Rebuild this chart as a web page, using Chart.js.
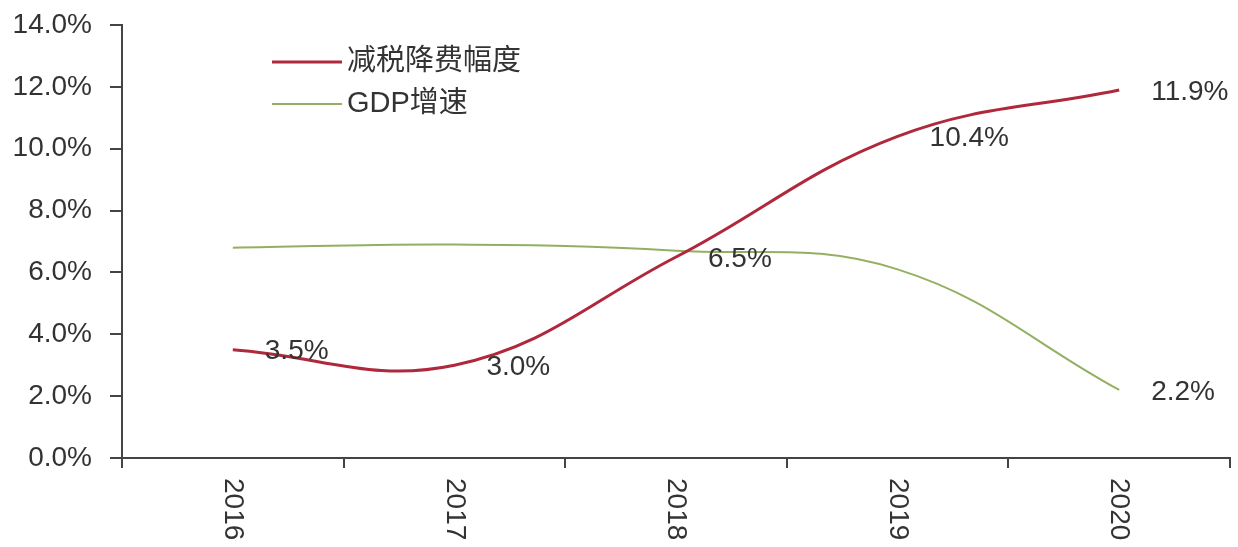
<!DOCTYPE html>
<html>
<head>
<meta charset="utf-8">
<script src="https://cdn.jsdelivr.net/npm/chart.js@4"></script>
<style>
  html, body { margin: 0; padding: 0; background: #fff; }
  #wrap { width: 1238px; height: 547px; }
</style>
</head>
<body>
<div id="wrap"><canvas id="taxgdp" width="1238" height="547"></canvas></div>
<script>
var years = ['2016', '2017', '2018', '2019', '2020'];
var taxCut = [3.5, 3.0, 6.5, 10.4, 11.9];
var gdpGrowth = [6.8, 6.9, 6.7, 6.1, 2.2];
// which points get a value label (index lists)
var taxCutLabelled = [0, 1, 2, 3, 4];
var gdpLabelled = [4];

var FONT = '"Liberation Sans", "Noto Sans CJK SC", sans-serif';
var TEXT = '#333333';

// x labels read top-to-bottom, chart.js only rotates the other way
const downLabels = {
  id: 'downLabels',
  afterDraw(chart) {
    const c = chart.ctx;
    const xs = chart.scales.x;
    c.save();
    c.font = '28px ' + FONT;
    c.fillStyle = TEXT;
    c.textAlign = 'left';
    c.textBaseline = 'middle';
    xs.ticks.forEach((t, i) => {
      const px = xs.getPixelForTick(i);
      c.save();
      c.translate(px, xs.top + 20);
      c.rotate(Math.PI / 2);
      c.fillText(years[i], 0, 0);
      c.restore();
    });
    c.restore();
  }
};

// value labels to the right of the points
const valueLabels = {
  id: 'valueLabels',
  afterDatasetsDraw(chart) {
    const c = chart.ctx;
    c.save();
    c.font = '28px ' + FONT;
    c.fillStyle = TEXT;
    c.textAlign = 'left';
    c.textBaseline = 'middle';
    [taxCutLabelled, gdpLabelled].forEach((idx, d) => {
      const meta = chart.getDatasetMeta(d);
      const vals = chart.data.datasets[d].data;
      idx.forEach(i => {
        const p = meta.data[i];
        c.fillText(vals[i].toFixed(1) + '%', p.x + 32, p.y + 2);
      });
    });
    c.restore();
  }
};

// legend sits inside the plot, top left
const innerLegend = {
  id: 'innerLegend',
  afterDraw(chart) {
    const c = chart.ctx;
    c.save();
    c.font = '29px ' + FONT;
    c.textBaseline = 'middle';
    chart.data.datasets.forEach((ds, i) => {
      const y = 62 + i * 42;
      c.strokeStyle = ds.borderColor;
      c.lineWidth = ds.borderWidth;
      c.beginPath();
      c.moveTo(272, y);
      c.lineTo(342, y);
      c.stroke();
      c.fillStyle = TEXT;
      c.fillText(ds.label, 347, y);
    });
    c.restore();
  }
};

var ctx_taxgdp = document.getElementById('taxgdp');
var taxgdp = new Chart(ctx_taxgdp, {
  type: 'line',
  data: {
    labels: years,
    datasets: [
      {
        label: '减税降费幅度',
        data: taxCut,
        borderColor: '#b0283c',
        borderWidth: 3,
        pointRadius: 0,
        tension: 0.4,
        fill: false
      },
      {
        label: 'GDP增速',
        data: gdpGrowth,
        borderColor: '#93b062',
        borderWidth: 2,
        pointRadius: 0,
        tension: 0.4,
        fill: false
      }
    ]
  },
  options: {
    responsive: false,
    animation: false,
    layout: { padding: { top: 25, right: 8, left: 0, bottom: 0 } },
    plugins: {
      legend: { display: false },
      tooltip: { enabled: false }
    },
    scales: {
      x: {
        offset: true,
        grid: {
          offset: true,
          drawOnChartArea: false,
          drawTicks: true,
          tickLength: 10,
          color: '#444',
          lineWidth: 2
        },
        border: { display: true, color: '#444', width: 2 },
        ticks: { display: false },
        afterFit(scale) { scale.height = 89; }
      },
      y: {
        min: 0,
        max: 14,
        ticks: {
          stepSize: 2,
          color: TEXT,
          padding: 18,
          font: { family: FONT, size: 28 },
          callback: v => v.toFixed(1) + '%'
        },
        grid: {
          drawOnChartArea: false,
          drawTicks: true,
          tickLength: 12,
          color: '#444',
          lineWidth: 2
        },
        border: { display: true, color: '#444', width: 2 },
        afterFit(scale) {
          scale.width = 122;
          scale.paddingTop = 0;
          scale.paddingBottom = 0;
        }
      }
    }
  },
  plugins: [downLabels, valueLabels, innerLegend]
});
</script>
</body>
</html>
